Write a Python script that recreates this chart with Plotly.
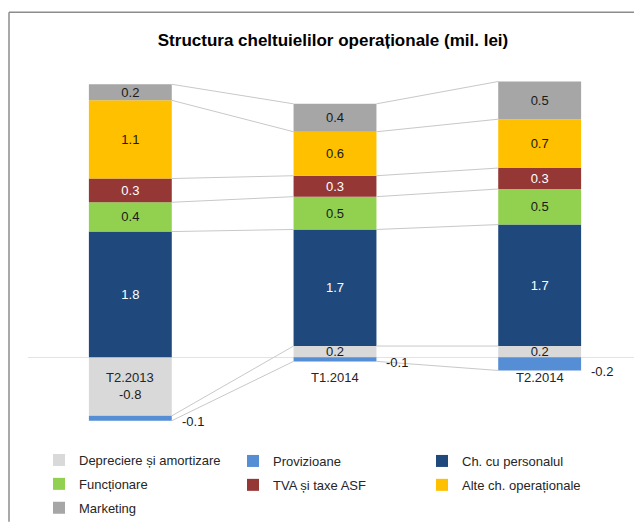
import plotly.graph_objects as go

categories = ["T2.2013", "T1.2014", "T2.2014"]
series_names = ["Depreciere și amortizare", "Provizioane", "Ch. cu personalul",
                "Funcționare", "TVA și taxe ASF", "Alte ch. operaționale", "Marketing"]
depreciere = [-0.84, 0.16, 0.16]
provizioane = [-0.07, -0.06, -0.19]
personal = [1.80, 1.67, 1.74]
functionare = [0.42, 0.47, 0.51]
tva = [0.34, 0.30, 0.30]
alte = [1.12, 0.63, 0.70]
marketing = [0.23, 0.40, 0.54]

values = [depreciere, provizioane, personal, functionare, tva, alte, marketing]
colors = ["#D9D9D9", "#558ED5", "#1F497D", "#92D050", "#953735", "#FFC000", "#A6A6A6"]
text_colors = ["#1a1a1a", "#1a1a1a", "#FFFFFF", "#1a1a1a", "#FFFFFF", "#1a1a1a", "#1a1a1a"]
legend_ids = ["legend", "legend2", "legend3", "legend", "legend2", "legend3", "legend"]

FONT = "Liberation Sans, Arial, sans-serif"
n = len(categories)
xs = list(range(n))
bar_w = 0.405

# cumulative ends (relative stacking)
pos = [0.0] * n
neg = [0.0] * n
ends = []
for vals in values:
    e = []
    for i, v in enumerate(vals):
        if v >= 0:
            pos[i] += v
            e.append(pos[i])
        else:
            neg[i] += v
            e.append(neg[i])
    ends.append(e)

fig = go.Figure()

# series lines
lx, ly = [], []
for e in ends:
    for i in range(n - 1):
        lx += [xs[i] + bar_w / 2, xs[i + 1] - bar_w / 2, None]
        ly += [e[i], e[i + 1], None]
fig.add_trace(go.Scatter(x=lx, y=ly, mode="lines", line=dict(color="#C8C8C8", width=1),
                         showlegend=False, hoverinfo="skip"))

for k, (name, vals) in enumerate(zip(series_names, values)):
    if k == 1:
        txt = ["" for v in vals]
    elif k == 0:
        txt = ["" if v < 0 else f"{v:.1f}" for v in vals]
    else:
        txt = [f"{v:.1f}" for v in vals]
    fig.add_trace(go.Bar(
        x=xs, y=vals, name=name, marker=dict(color=colors[k], line=dict(width=0)),
        text=txt, textposition="inside", insidetextanchor="middle", textangle=0,
        insidetextfont=dict(family=FONT, size=13, color=text_colors[k]),
        legend=legend_ids[k], legendgroup=name,
    ))

annotations = []
# category labels at the zero line
for i, c in enumerate(categories):
    annotations.append(dict(x=xs[i], y=0, xref="x", yref="y", text=c, showarrow=False,
                            yanchor="middle", yshift=-20,
                            font=dict(family=FONT, size=13, color="#262626")))
# provision labels outside right
for i, v in enumerate(provizioane):
    annotations.append(dict(x=xs[i] + bar_w / 2, y=ends[1][i], xref="x", yref="y",
                            text=f"{v:.1f}", showarrow=False, xanchor="left", xshift=8,
                            yanchor="middle", yshift=-1,
                            font=dict(family=FONT, size=13, color="#1a1a1a")))
# negative depreciation label
for i, v in enumerate(depreciere):
    if v < 0:
        annotations.append(dict(x=xs[i], y=ends[0][i], xref="x", yref="y",
                                text=f"{v:.1f}", showarrow=False, yanchor="bottom", yshift=12,
                                font=dict(family=FONT, size=13, color="#1a1a1a")))

# figure pixel coordinates (page has an 8px body margin)
W, H = 634, 515
L, R, T, B = 20, 0, 72, 93
ZERO = 350
PXU = 70
pw, ph = W - L - R, H - T - B

def px_x(p):
    return (p - L) / pw

def px_y(p):
    return (H - B - p) / ph

legend_common = dict(orientation="v", yanchor="top", xanchor="left", y=px_y(438),
                     font=dict(family=FONT, size=13, color="#262626"),
                     bgcolor="rgba(0,0,0,0)", tracegroupgap=4, itemwidth=30,
                     traceorder="grouped")

border = dict(color="#8C8C8C", width=1.5)
fig.update_layout(
    width=W, height=H,
    margin=dict(l=L, r=R, t=T, b=B),
    paper_bgcolor="white", plot_bgcolor="white",
    barmode="relative", bargap=1 - bar_w,
    title=dict(text="<b>Structura cheltuielilor operaționale (mil. lei)</b>",
               x=325 / W, xref="container", xanchor="center",
               y=1 - 32 / H, yanchor="middle",
               font=dict(family="Liberation Sans Narrow, Arial Narrow, Liberation Sans, sans-serif",
                         size=17, color="#000000")),
    xaxis=dict(range=[-0.5, n - 0.5], showticklabels=False, showgrid=False,
               zeroline=False, showline=False, ticks=""),
    yaxis=dict(range=[-(H - B - ZERO) / PXU, (ZERO - T) / PXU], showticklabels=False,
               showgrid=False, zeroline=True, zerolinecolor="#E3E3E3", zerolinewidth=1,
               showline=False, ticks="", layer="below traces"),
    uniformtext=dict(minsize=13, mode="show"),
    annotations=annotations,
    legend=dict(x=px_x(31), **legend_common),
    legend2=dict(x=px_x(225), **legend_common),
    legend3=dict(x=px_x(414), **legend_common),
    shapes=[
        dict(type="line", xref="paper", yref="paper", x0=px_x(1), x1=px_x(1),
             y0=px_y(H), y1=px_y(4), line=border, layer="below"),
        dict(type="line", xref="paper", yref="paper", x0=px_x(1), x1=px_x(W),
             y0=px_y(4), y1=px_y(4), line=border, layer="below"),
    ],
    showlegend=True,
)

fig.write_html("out.html")
